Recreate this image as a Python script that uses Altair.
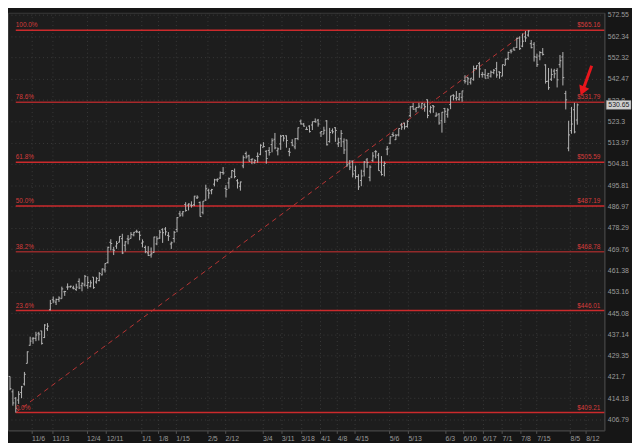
import altair as alt
import pandas as pd

# ---- OHLC daily bars (trading-day index starts at -2 = Oct 25, 2023) ----
first_index = -2
opens = [421.89, 416.45, 414.19, 413.56, 416.18, 419.20, 426.58, 433.14, 435.47, 435.69,
         437.55, 438.43, 435.98, 439.23, 446.32, 450.11, 449.22, 450.24, 450.53, 453.18,
         454.98, 455.07, 454.65, 454.08, 457.15, 455.48, 455.77, 455.60, 455.26, 458.81,
         456.91, 457.46, 459.69, 461.63, 464.49, 472.50, 469.49, 470.98, 472.53, 473.96,
         471.33, 473.86, 474.07, 475.44, 476.88, 476.49, 472.16, 470.43, 468.30, 467.49,
         468.43, 471.87, 474.16, 477.59, 477.84, 475.26, 471.82, 474.01, 477.65, 484.01,
         484.01, 487.81, 487.58, 487.59, 487.73, 490.56, 488.62, 484.63, 489.65, 493.70,
         493.52, 496.29, 498.10, 498.84, 501.17, 494.53, 496.79, 499.29, 501.70, 497.72,
         495.42, 504.01, 509.27, 508.30, 506.70, 505.33, 508.07, 508.98, 512.03, 510.24,
         510.55, 513.14, 515.46, 510.48, 513.45, 517.11, 516.97, 510.21, 514.00, 512.15,
         515.77, 523.39, 522.11, 519.80, 521.23, 521.71, 523.21, 523.83, 518.24, 517.72,
         523.52, 514.46, 519.15, 520.50, 513.48, 515.68, 514.37, 515.13, 504.94, 506.05,
         501.98, 499.44, 497.83, 501.78, 506.56, 499.18, 506.35, 510.09, 508.56, 501.38,
         504.15, 511.16, 513.75, 517.56, 515.26, 517.38, 521.81, 522.56, 521.11, 525.83,
         529.88, 528.81, 529.57, 529.28, 530.65, 532.96, 527.85, 530.27, 525.68, 526.53,
         523.59, 529.02, 526.46, 530.77, 534.98, 533.66, 533.18, 534.07, 541.63, 543.15,
         540.88, 542.08, 547.16, 549.44, 544.40, 544.33, 543.99, 543.69, 545.37, 547.16,
         545.63, 543.70, 548.69, 551.77, 555.44, 556.26, 557.07, 561.44, 557.63, 562.03,
         562.87, 558.80, 558.51, 552.42, 553.00, 554.54, 548.86, 541.35, 542.28, 546.02,
         546.26, 548.98, 552.57, 535.75, 511.64, 519.22, 528.47, 523.91]
highs = [421.92, 417.33, 414.60, 416.68, 418.53, 423.50, 430.92, 436.29, 436.15, 438.09,
         438.09, 438.47, 440.93, 441.33, 450.06, 451.38, 450.56, 451.42, 455.13, 453.52,
         456.38, 455.50, 455.49, 456.27, 458.32, 456.76, 459.65, 459.12, 457.59, 458.84,
         458.90, 460.75, 462.17, 464.20, 470.76, 473.73, 470.70, 472.98, 474.92, 475.90,
         472.98, 475.38, 476.58, 476.66, 477.55, 477.03, 473.67, 471.19, 470.96, 470.44,
         474.75, 474.93, 477.45, 478.12, 478.60, 476.61, 472.79, 477.06, 482.72, 485.22,
         485.11, 488.77, 488.31, 489.12, 491.42, 491.62, 489.08, 489.23, 496.05, 494.38,
         494.32, 498.53, 498.71, 501.65, 503.50, 495.89, 499.07, 502.20, 502.87, 498.41,
         497.37, 508.49, 510.13, 508.75, 507.16, 506.86, 509.74, 513.29, 514.20, 510.70,
         512.07, 515.89, 518.22, 511.88, 517.38, 517.29, 517.13, 511.70, 515.48, 516.00,
         520.62, 524.11, 522.61, 520.95, 521.58, 523.21, 524.61, 524.38, 518.98, 520.95,
         523.87, 520.44, 520.18, 520.75, 516.16, 519.48, 515.82, 515.30, 506.50, 506.22,
         504.13, 500.46, 502.38, 506.09, 507.37, 504.27, 509.88, 510.75, 509.56, 508.19,
         505.89, 512.55, 516.61, 518.57, 517.74, 520.21, 522.64, 522.67, 523.83, 530.08,
         531.52, 529.52, 531.56, 531.52, 531.38, 533.07, 530.27, 530.51, 527.31, 527.03,
         527.50, 529.31, 529.15, 534.69, 535.42, 536.89, 535.99, 537.01, 544.12, 543.33,
         542.81, 548.53, 548.62, 550.28, 545.65, 546.95, 545.20, 546.24, 546.96, 550.28,
         545.88, 549.01, 551.83, 555.05, 556.25, 557.18, 561.67, 562.33, 563.67, 564.84,
         565.16, 560.51, 559.52, 554.08, 555.27, 556.74, 549.17, 547.46, 547.19, 547.05,
         547.34, 553.50, 554.87, 536.99, 523.58, 529.75, 531.59, 531.29]
lows = [417.02, 411.60, 409.21, 412.22, 414.21, 418.65, 426.56, 433.01, 433.68, 434.64,
        434.87, 433.40, 435.78, 438.42, 446.09, 448.80, 448.12, 449.29, 450.52, 451.59,
        453.89, 454.73, 454.08, 453.50, 454.20, 453.34, 455.16, 454.34, 454.87, 454.31,
        456.28, 457.21, 459.47, 460.60, 464.12, 469.25, 467.43, 469.89, 472.45, 467.82,
        468.84, 471.70, 473.99, 474.89, 476.26, 473.30, 470.49, 468.17, 467.05, 466.43,
        468.30, 471.35, 473.87, 472.26, 475.23, 473.06, 469.87, 472.42, 476.54, 482.78,
        482.89, 484.88, 485.39, 486.54, 487.17, 490.11, 482.86, 483.80, 489.30, 490.23,
        492.05, 495.36, 497.26, 498.49, 500.24, 490.72, 494.40, 498.80, 498.75, 494.45,
        493.56, 503.02, 507.10, 505.86, 504.75, 504.96, 505.35, 508.56, 512.00, 504.91,
        508.42, 509.81, 511.13, 508.50, 510.86, 514.49, 511.82, 508.12, 512.44, 511.12,
        515.08, 521.91, 520.97, 519.61, 518.40, 519.49, 522.78, 520.97, 516.48, 517.67,
        512.76, 514.01, 517.89, 514.35, 512.09, 512.08, 509.08, 503.58, 502.21, 499.12,
        498.56, 493.86, 495.43, 499.53, 503.13, 497.49, 505.70, 507.25, 501.98, 499.87,
        499.55, 508.56, 513.30, 516.45, 515.14, 516.71, 519.59, 519.74, 520.56, 525.18,
        528.54, 527.32, 529.17, 529.07, 527.60, 524.72, 526.88, 527.11, 525.37, 521.84,
        518.36, 522.60, 524.96, 528.73, 532.68, 532.54, 532.57, 532.05, 540.30, 539.59,
        539.85, 541.61, 546.73, 542.95, 543.02, 542.62, 542.44, 543.03, 544.61, 542.95,
        542.52, 543.65, 548.65, 551.12, 554.19, 555.52, 556.77, 555.83, 557.15, 559.63,
        562.10, 556.61, 550.43, 547.91, 551.02, 553.28, 540.29, 537.45, 541.49, 542.72,
        538.52, 547.58, 539.43, 528.60, 510.27, 517.87, 518.05, 521.84]
closes = [417.55, 412.55, 410.68, 415.59, 418.20, 422.66, 430.76, 434.69, 435.69, 436.93,
          437.25, 433.84, 440.61, 440.19, 448.73, 449.68, 450.23, 450.79, 454.26, 453.27,
          455.02, 455.30, 454.48, 454.93, 454.61, 456.40, 459.10, 456.69, 456.60, 454.76,
          458.23, 460.20, 461.99, 464.10, 470.50, 472.01, 469.33, 471.97, 474.84, 468.26,
          472.70, 473.65, 475.65, 476.51, 476.69, 475.31, 472.65, 468.79, 467.28, 467.92,
          474.60, 473.88, 476.56, 476.35, 476.68, 474.93, 472.29, 476.49, 482.43, 483.45,
          484.86, 485.39, 488.03, 487.41, 491.27, 490.89, 482.88, 489.20, 494.35, 492.55,
          493.98, 498.10, 498.32, 501.20, 500.98, 494.08, 498.57, 502.01, 499.51, 496.76,
          497.21, 507.50, 507.85, 505.99, 506.93, 506.26, 508.08, 512.85, 512.30, 507.18,
          509.75, 514.81, 511.72, 511.28, 516.78, 515.97, 514.95, 509.83, 512.86, 515.71,
          520.48, 522.20, 521.21, 519.77, 518.81, 523.17, 523.07, 522.16, 518.84, 519.41,
          513.07, 518.43, 518.72, 519.32, 514.12, 518.00, 510.85, 504.45, 503.53, 500.55,
          499.52, 495.16, 499.72, 505.65, 505.41, 503.49, 508.26, 510.06, 501.98, 500.35,
          505.03, 511.29, 516.57, 517.14, 517.19, 520.17, 520.84, 520.91, 523.30, 529.78,
          528.69, 529.45, 530.06, 531.36, 529.83, 525.96, 529.44, 529.81, 526.10, 522.61,
          527.37, 527.80, 528.39, 534.67, 534.66, 534.01, 535.66, 536.95, 541.36, 542.45,
          542.78, 547.10, 548.49, 547.00, 544.51, 542.74, 544.83, 545.51, 546.37, 544.22,
          545.34, 549.01, 551.46, 554.64, 555.28, 555.82, 561.32, 556.48, 559.99, 561.53,
          564.86, 556.94, 552.66, 548.99, 554.65, 553.78, 541.23, 538.41, 544.44, 544.76,
          542.00, 550.81, 543.01, 532.90, 517.38, 522.15, 518.66, 530.65]

# ---- axes ----
tick_labels = ["11/6", "11/13", "12/4", "12/11", "1/1", "1/8", "1/15", "2/5", "2/12",
               "3/4", "3/11", "3/18", "4/1", "4/8", "4/15", "5/6", "5/13", "6/3",
               "6/10", "6/17", "7/1", "7/8", "7/15", "8/5", "8/12"]
tick_index = [5.5, 12.6, 24.6, 31.4, 43.7, 49.5, 55.6, 66.6, 72.7,
              85.7, 92.2, 99.0, 105.8, 111.6, 117.7, 129.7, 136.2, 149.1,
              155.3, 162.1, 168.9, 175.4, 180.9, 192.5, 197.9]
price_ticks = [406.79, 414.18, 421.7, 429.35, 437.14, 445.08, 453.16, 461.38, 469.76,
               478.29, 486.97, 495.81, 504.81, 513.97, 523.3, 532.8, 542.47, 552.32,
               562.34, 572.55]
x_domain = [-2.7, 204.4]
y_domain = [403.1, 573.6]

# ---- Fibonacci retracement ----
fib_price = [565.16, 531.79, 505.59, 487.19, 468.78, 446.01, 409.21]
fib_pct = ["100.0%", "78.6%", "61.8%", "50.0%", "38.2%", "23.6%", "0.0%"]
fib_text = ["$565.16", "$531.79", "$505.59", "$487.19", "$468.78", "$446.01", "$409.21"]
fib_color = ["#cc2a2c", "#a8292b", "#cc2a2c", "#cc2a2c", "#922a2a", "#cc2a2c", "#cc2a2c"]
swing_index = [0, 178]
swing_price = [409.21, 565.16]
last_price = 530.65
arrow_index = [200.0, 197.3]
arrow_price = [548.5, 538.6]
arrow_tip_index = [196.8]
arrow_tip_price = [536.9]

W, H = 604, 423

bars = pd.DataFrame({"idx": list(range(first_index, first_index + len(opens))),
                     "open": opens, "high": highs, "low": lows, "close": closes})
fib = pd.DataFrame({"price": fib_price, "pct": fib_pct, "txt": fib_text, "col": fib_color})
swing = pd.DataFrame({"idx": swing_index, "price": swing_price})
last = pd.DataFrame({"price": [last_price], "txt": [f"{last_price:.2f}"]})
arrow = pd.DataFrame({"idx": arrow_index, "price": arrow_price})
arrow_tip = pd.DataFrame({"idx": arrow_tip_index, "price": arrow_tip_price})

FONT = "Liberation Sans"
x_expr = ("[" + ",".join(f"'{t}'" for t in tick_labels) + "][indexof(["
          + ",".join(str(v) for v in tick_index) + "], datum.value)]")

xaxis = alt.Axis(values=tick_index, labelExpr=x_expr, title=None, grid=True,
                 gridColor="#3a3a3a", gridDash=[1, 3], gridWidth=1,
                 domainColor="#444444", tickColor="#555555", tickSize=3,
                 labelColor="#9c9c9c", labelFontSize=7, labelFont=FONT,
                 labelAlign="left", labelPadding=1, labelOverlap=False, labelFlush=False)
yaxis = alt.Axis(values=price_ticks, labelExpr="toString(datum.value)", title=None,
                 orient="right", grid=True, gridColor="#3a3a3a", gridDash=[1, 3],
                 domainColor="#444444", ticks=False, labelColor="#9c9c9c",
                 labelFontSize=7, labelFont=FONT, labelPadding=3, labelOverlap=False)
xs = alt.Scale(domain=x_domain, zero=False, nice=False)
ys = alt.Scale(type="log", domain=y_domain, nice=False)

def X(field):
    return alt.X(field, type="quantitative", scale=xs, axis=xaxis)

def Y(field):
    return alt.Y(field, type="quantitative", scale=ys, axis=yaxis)

BAR = "#b8b8b8"
hl = alt.Chart(bars).mark_rule(color=BAR, strokeWidth=1).encode(
    x=X("idx"), y=Y("low"), y2="high")
op = alt.Chart(bars).mark_rule(color=BAR, strokeWidth=1, xOffset=-1.4).encode(
    x=X("idx"), x2="idx", y=Y("open"))
cl = alt.Chart(bars).mark_rule(color=BAR, strokeWidth=1, x2Offset=1.4).encode(
    x=X("idx"), x2="idx", y=Y("close"))

fib_lines = alt.Chart(fib).mark_rule(strokeWidth=1.5).encode(
    x=alt.X(datum=0, type="quantitative", scale=xs, axis=xaxis),
    x2=alt.X2(datum=x_domain[1]),
    y=Y("price"), color=alt.Color("col:N", scale=None))
fib_left = alt.Chart(fib).mark_text(align="left", baseline="bottom", dy=-2,
                                    fontSize=6.5, font=FONT, color="#d63c3c").encode(
    x=alt.X(datum=0, type="quantitative", scale=xs, axis=xaxis),
    y=Y("price"), text="pct:N")
fib_right = alt.Chart(fib).mark_text(align="right", baseline="bottom", dx=-4, dy=-2,
                                     fontSize=6.5, font=FONT, color="#d63c3c").encode(
    x=alt.X(datum=x_domain[1], type="quantitative", scale=xs, axis=xaxis),
    y=Y("price"), text="txt:N")

swing_line = alt.Chart(swing).mark_line(color="#b83434", strokeWidth=1,
                                        strokeDash=[5, 4]).encode(x=X("idx"), y=Y("price"))

last_box = alt.Chart(last).mark_rect(color="#d0d0d0", yOffset=-4.5, y2Offset=4.5,
                                     stroke="#888888", strokeWidth=0.5).encode(
    x=alt.value(W + 2), x2=alt.value(W + 27), y=Y("price"), y2="price")
last_txt = alt.Chart(last).mark_text(align="left", baseline="middle", fontSize=7,
                                     font=FONT, color="#1a1a1a").encode(
    x=alt.value(W + 4), y=Y("price"), text="txt:N")

arrow_shaft = alt.Chart(arrow).mark_line(color="#e8161c", strokeWidth=3).encode(
    x=X("idx"), y=Y("price"))
arrow_head = alt.Chart(arrow_tip).mark_point(shape="triangle-up", filled=True,
                                             size=120, angle=203, color="#e8161c",
                                             opacity=1).encode(
    x=X("idx"), y=Y("price"))

chart = alt.layer(fib_lines, swing_line, hl, op, cl, fib_left, fib_right,
                  last_box, last_txt, arrow_shaft, arrow_head).properties(
    width=W, height=H, padding=0, background="#161616"
).configure_view(fill="#1d1d1d", stroke="#3c3c3c")

chart.save("out.html", embed_options={"renderer": "svg", "actions": False})
